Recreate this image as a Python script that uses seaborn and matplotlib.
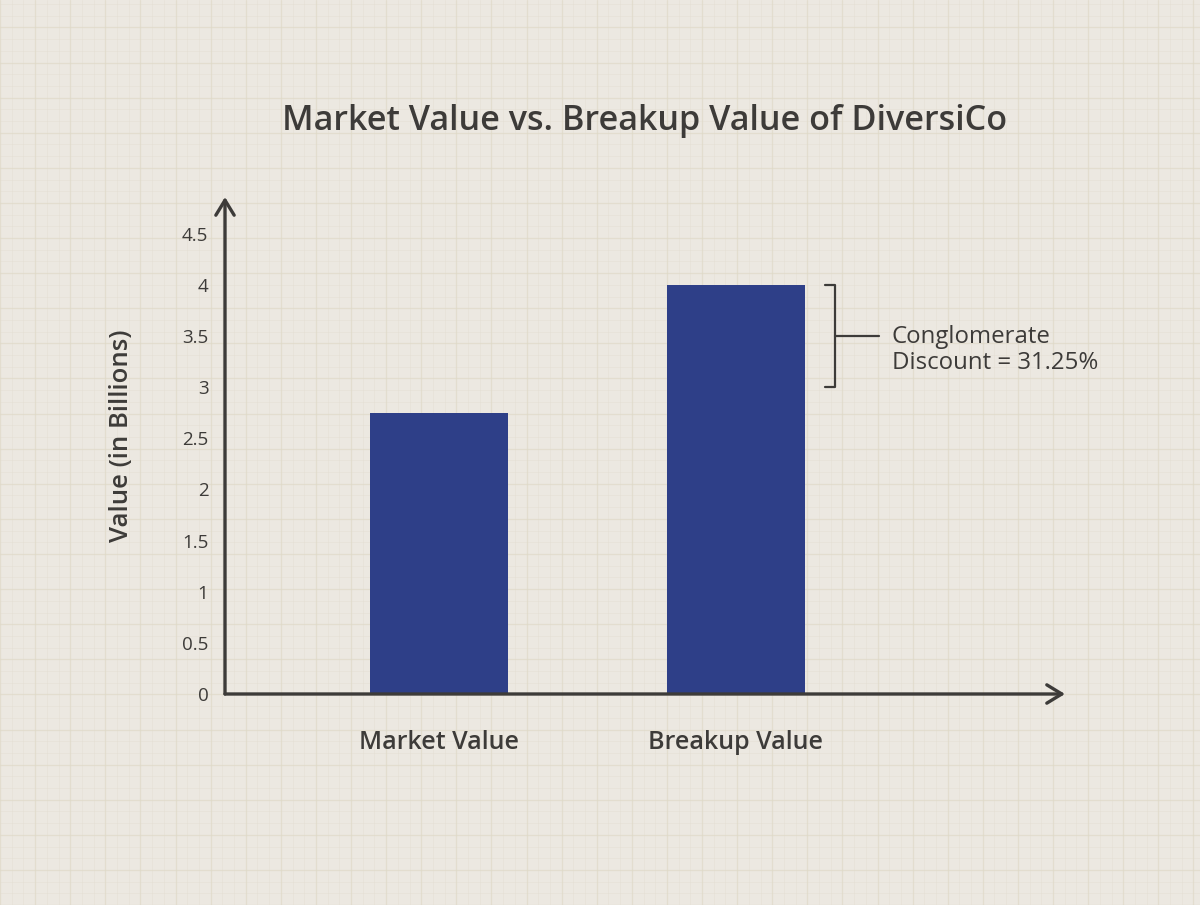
import matplotlib
matplotlib.use('Agg')
import matplotlib.pyplot as plt
import seaborn as sns
import numpy as np
import pandas as pd
from matplotlib.lines import Line2D

#########################
###########Data
categories = ['Market Value', 'Breakup Value']
values = [2.75, 4.0]
yticks = [0, 0.5, 1, 1.5, 2, 2.5, 3, 3.5, 4, 4.5]
yticklabels = ['0', '0.5', '1', '1.5', '2', '2.5', '3', '3.5', '4', '4.5']
bracket_low = 3.0
bracket_high = 4.0
note = 'Conglomerate\nDiscount = 31.25%'

bg = '#ece8e1'
ink = '#3d3b39'
bar_color = '#2e3f88'

sns.set_theme(style='white')
plt.rcParams['font.family'] = ['Open Sans', 'DejaVu Sans']

df = pd.DataFrame({'cat': categories, 'val': values})

fig = plt.figure(figsize=(12, 9.05), dpi=100, facecolor=bg)

###########################
## graph paper background
W, H = 1200, 905
for px in np.arange(0, W, 11.7):
    fig.add_artist(Line2D([px / W, px / W], [0, 1], color='#e2ddd0', lw=0.6, alpha=0.45, zorder=0))
for py in np.arange(0, H, 11.7):
    fig.add_artist(Line2D([0, 1], [py / H, py / H], color='#e2ddd0', lw=0.6, alpha=0.45, zorder=0))
for px in np.arange(0, W, 35.1):
    fig.add_artist(Line2D([px / W, px / W], [0, 1], color='#dfd9c6', lw=1.0, alpha=0.5, zorder=0))
for py in np.arange(0, H, 35.1):
    fig.add_artist(Line2D([0, 1], [py / H, py / H], color='#dfd9c6', lw=1.0, alpha=0.5, zorder=0))

###########################
## bars
ax = fig.add_axes([225 / W, (H - 694) / H, (1065 - 225) / W, (694 - 197) / H])
ax.patch.set_alpha(0)
sns.barplot(x='cat', y='val', data=df, color=bar_color, saturation=1, width=0.465, ax=ax,
            linewidth=0, edgecolor='none', zorder=3)
ax.set_xlim(-0.72, 2.108)
ax.set_ylim(0, 4.86)

for s in ax.spines.values():
    s.set_visible(False)

# axes with arrows
ax.annotate('', xy=(0, 1), xytext=(0, 0), xycoords='axes fraction',
            arrowprops=dict(arrowstyle='->,head_length=0.9,head_width=0.55', color=ink, lw=2.4,
                            shrinkA=0, shrinkB=0), zorder=5)
ax.annotate('', xy=(1, 0), xytext=(0, 0), xycoords='axes fraction',
            arrowprops=dict(arrowstyle='->,head_length=0.9,head_width=0.55', color=ink, lw=2.4,
                            shrinkA=0, shrinkB=0), zorder=5)

ax.set_yticks(yticks)
ax.set_yticklabels(yticklabels, fontsize=13.5, color=ink)
ax.tick_params(axis='y', length=0, pad=12)
ax.tick_params(axis='x', length=0, pad=26)
for lab in ax.get_xticklabels():
    lab.set_fontsize(18)
    lab.set_fontweight('semibold')
    lab.set_color(ink)

ax.set_xlabel('')
ax.set_ylabel('Value (in Billions)', fontsize=18.5, fontweight='semibold', color=ink)
ax.yaxis.set_label_coords(-0.108, 0.52)

###########################
## bracket annotation
bx = 1 + 0.335
ax.plot([bx - 0.035, bx, bx, bx - 0.035], [bracket_high, bracket_high, bracket_low, bracket_low],
        color=ink, lw=1.6, clip_on=False)
mid = (bracket_high + bracket_low) / 2
ax.plot([bx, bx + 0.148], [mid, mid], color=ink, lw=1.6, clip_on=False)
ax.text(bx + 0.19, mid - 0.135, note, fontsize=17.3, fontweight='medium', color=ink,
        va='center', ha='left', linespacing=1.1)

###########################
## title
fig.text(645 / W, 1 - 121 / H, 'Market Value vs. Breakup Value of DiversiCo', fontsize=24.6,
         fontweight='semibold', color=ink, ha='center', va='center')

fig.savefig('out.png', dpi=100, facecolor=bg)
